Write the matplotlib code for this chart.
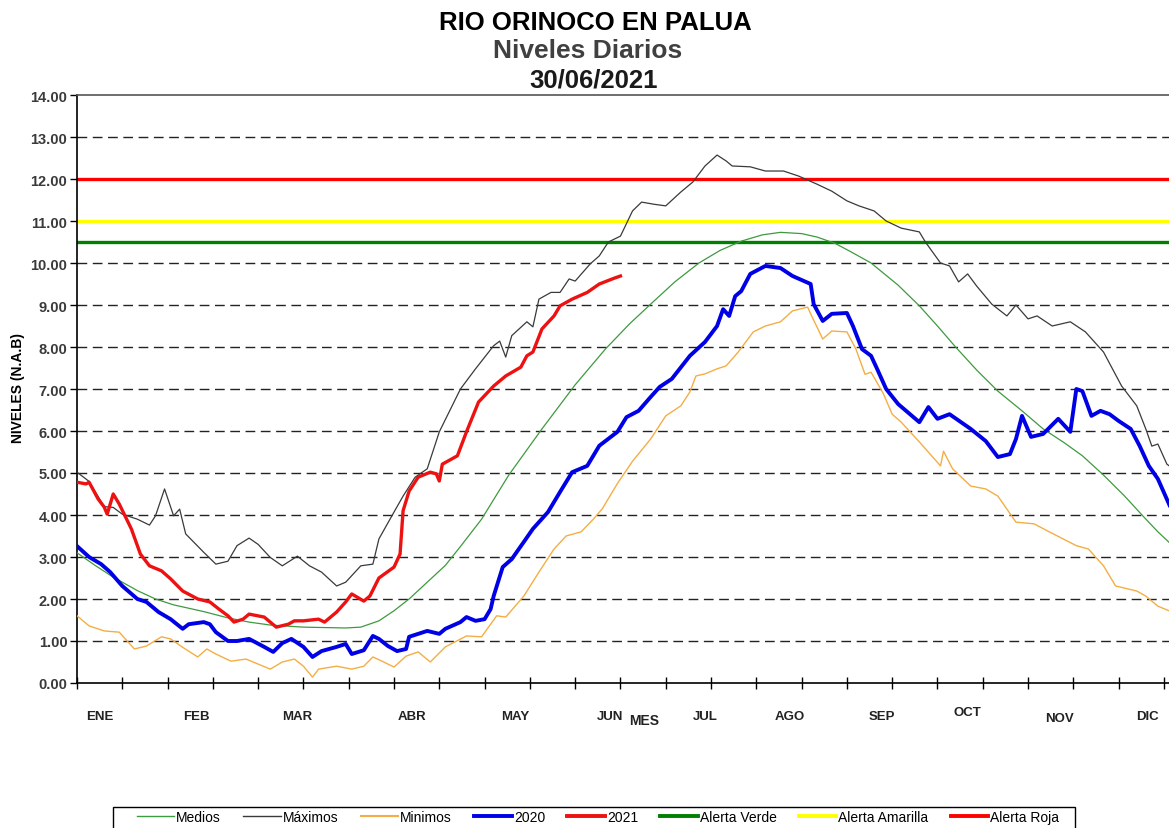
import matplotlib
matplotlib.use("Agg")
import matplotlib.pyplot as plt
from matplotlib.lines import Line2D
from matplotlib.patches import Rectangle
import matplotlib.transforms as mtransforms
from matplotlib import font_manager

plt.rcParams['font.family'] = ['Liberation Sans', 'DejaVu Sans']

_names = {f.name for f in font_manager.fontManager.ttflist}
NARROW = ['Liberation Sans Narrow', 'Liberation Sans'] if 'Liberation Sans Narrow' in _names else ['Liberation Sans']

# ---------------- data (day of year, level m) ----------------
medios_dias = [0, 6, 12, 20, 26, 32, 42, 50, 57, 64, 75, 89, 94, 100, 105, 110, 116, 122, 127, 134,
               143, 154, 165, 175, 183, 190, 198, 206, 213, 220, 227, 233, 240, 245, 251, 256, 263,
               272, 279, 285, 291, 298, 305, 313, 320, 327, 333, 340, 347, 353, 358, 362, 365]
medios = [3.10, 2.80, 2.52, 2.20, 2.00, 1.86, 1.70, 1.55, 1.45, 1.38, 1.33, 1.31, 1.33, 1.48, 1.72,
          2.00, 2.40, 2.80, 3.25, 3.90, 4.95, 6.05, 7.10, 7.95, 8.55, 9.02, 9.55, 10.00, 10.30, 10.52,
          10.67, 10.73, 10.70, 10.62, 10.47, 10.28, 10.00, 9.47, 8.98, 8.50, 8.00, 7.45, 6.95, 6.48,
          6.05, 5.72, 5.41, 4.95, 4.45, 3.98, 3.60, 3.33, 3.15]

maximos_dias = [0, 4, 9, 12, 15, 20, 24, 26, 29, 32, 34, 36, 42, 46, 50, 53, 57, 60, 64, 68, 73, 77,
                81, 86, 89, 94, 98, 100, 105, 108, 112, 116, 120, 127, 132, 138, 140, 142, 144, 149,
                151, 153, 157, 160, 163, 165, 170, 173, 176, 180, 184, 187, 191, 195, 200, 204, 208,
                212, 215, 217, 223, 228, 234, 239, 245, 250, 255, 259, 264, 268, 273, 279, 281, 286,
                289, 292, 295, 298, 303, 308, 311, 315, 318, 323, 329, 334, 340, 346, 351, 354, 356,
                358, 361, 365]
maximos = [5.02, 4.80, 4.20, 4.18, 4.02, 3.90, 3.76, 3.98, 4.62, 3.98, 4.14, 3.55, 3.11, 2.83, 2.90,
           3.27, 3.45, 3.30, 2.99, 2.79, 3.02, 2.79, 2.64, 2.31, 2.40, 2.79, 2.83, 3.43, 4.07, 4.45,
           4.90, 5.10, 5.98, 7.00, 7.48, 8.03, 8.14, 7.76, 8.27, 8.60, 8.48, 9.14, 9.30, 9.30, 9.62,
           9.57, 9.98, 10.17, 10.50, 10.64, 11.24, 11.45, 11.40, 11.36, 11.69, 11.93, 12.31, 12.57,
           12.43, 12.31, 12.29, 12.19, 12.19, 12.07, 11.88, 11.71, 11.48, 11.36, 11.24, 11.00, 10.83,
           10.74, 10.50, 10.00, 9.93, 9.55, 9.74, 9.45, 9.02, 8.74, 9.00, 8.67, 8.74, 8.50, 8.60,
           8.36, 7.88, 7.07, 6.60, 6.05, 5.64, 5.69, 5.21, 5.00]

minimos_dias = [0, 4, 9, 14, 19, 23, 28, 31, 35, 40, 43, 46, 51, 56, 60, 64, 68, 72, 75, 78, 80, 86,
                91, 95, 98, 101, 105, 109, 113, 117, 122, 129, 134, 139, 142, 148, 153, 158, 162, 167,
                171, 174, 179, 184, 190, 195, 200, 203, 205, 208, 212, 215, 219, 224, 228, 233, 237,
                242, 243, 247, 250, 255, 258, 261, 263, 267, 270, 273, 279, 286, 287, 290, 296, 301,
                305, 311, 317, 322, 331, 335, 340, 344, 351, 354, 358, 362, 365]
minimos = [1.60, 1.36, 1.24, 1.21, 0.81, 0.88, 1.10, 1.05, 0.85, 0.62, 0.81, 0.69, 0.52, 0.57, 0.45,
           0.33, 0.50, 0.57, 0.40, 0.14, 0.33, 0.40, 0.33, 0.40, 0.62, 0.52, 0.38, 0.64, 0.74, 0.50,
           0.86, 1.12, 1.10, 1.60, 1.57, 2.07, 2.64, 3.19, 3.50, 3.60, 3.90, 4.15, 4.75, 5.28, 5.81,
           6.36, 6.60, 6.93, 7.31, 7.36, 7.48, 7.55, 7.88, 8.36, 8.50, 8.60, 8.86, 8.95, 8.79, 8.19,
           8.38, 8.36, 7.95, 7.35, 7.40, 6.90, 6.40, 6.21, 5.74, 5.17, 5.52, 5.10, 4.69, 4.62, 4.45,
           3.83, 3.79, 3.60, 3.27, 3.19, 2.79, 2.31, 2.19, 2.07, 1.83, 1.71, 1.65]

dias_2020 = [0, 4, 8, 11, 15, 20, 23, 27, 31, 35, 37, 42, 44, 46, 50, 53, 57, 62, 65, 68, 71, 75, 78,
             81, 86, 89, 91, 95, 98, 100, 103, 106, 109, 110, 116, 120, 122, 127, 129, 132, 135, 137,
             138, 141, 144, 148, 151, 156, 160, 164, 169, 173, 179, 182, 186, 190, 193, 197, 203, 208,
             212, 214, 216, 218, 220, 223, 228, 233, 237, 243, 244, 247, 250, 255, 257, 260, 263, 265,
             268, 272, 279, 282, 285, 289, 296, 301, 305, 309, 311, 313, 316, 320, 325, 329, 331, 333,
             336, 339, 342, 345, 349, 352, 355, 358, 362, 365]
nivel_2020 = [3.26, 3.00, 2.83, 2.64, 2.31, 2.00, 1.93, 1.69, 1.52, 1.29, 1.40, 1.45, 1.40, 1.21, 1.00,
              1.00, 1.05, 0.86, 0.74, 0.95, 1.05, 0.86, 0.62, 0.76, 0.86, 0.93, 0.69, 0.78, 1.12, 1.05,
              0.88, 0.76, 0.81, 1.10, 1.24, 1.17, 1.29, 1.45, 1.57, 1.48, 1.52, 1.76, 2.07, 2.76, 2.95,
              3.36, 3.67, 4.07, 4.55, 5.02, 5.17, 5.65, 5.98, 6.33, 6.48, 6.81, 7.05, 7.24, 7.79, 8.12,
              8.50, 8.90, 8.74, 9.21, 9.33, 9.74, 9.93, 9.88, 9.69, 9.50, 9.02, 8.62, 8.79, 8.81, 8.50,
              7.95, 7.79, 7.48, 7.00, 6.64, 6.21, 6.57, 6.29, 6.40, 6.05, 5.76, 5.38, 5.45, 5.81, 6.36,
              5.86, 5.93, 6.29, 5.98, 7.00, 6.95, 6.36, 6.48, 6.40, 6.24, 6.05, 5.64, 5.17, 4.86, 4.21,
              4.00]

dias_2021 = [0, 3, 4, 7, 9, 10, 12, 14, 18, 21, 24, 28, 31, 35, 40, 44, 47, 50, 52, 55, 57, 62, 64,
             66, 70, 72, 75, 80, 82, 86, 89, 91, 95, 97, 100, 105, 107, 108, 110, 113, 117, 119, 120,
             121, 126, 129, 133, 138, 142, 147, 149, 151, 154, 158, 160, 164, 169, 173, 178, 180]
nivel_2021 = [4.78, 4.74, 4.78, 4.38, 4.19, 4.02, 4.50, 4.26, 3.67, 3.07, 2.79, 2.67, 2.48, 2.19, 2.00,
              1.93, 1.76, 1.60, 1.45, 1.52, 1.64, 1.57, 1.45, 1.33, 1.40, 1.48, 1.48, 1.52, 1.45, 1.69,
              1.93, 2.12, 1.95, 2.07, 2.50, 2.76, 3.07, 4.10, 4.57, 4.90, 5.02, 4.98, 4.81, 5.21, 5.41,
              5.98, 6.69, 7.07, 7.31, 7.52, 7.79, 7.88, 8.43, 8.74, 8.98, 9.14, 9.30, 9.50, 9.64, 9.69]

alerta_verde = 10.5
alerta_amarilla = 11.0
alerta_roja = 12.0

meses = ['ENE', 'FEB', 'MAR', 'ABR', 'MAY', 'JUN', 'JUL', 'AGO', 'SEP', 'OCT', 'NOV', 'DIC']
meses_x = [7.6, 39.7, 73, 111, 145, 176.5, 208, 236, 266.5, 295, 325.5, 354.6]
meses_dy = [0, 0, 0, 0, 0, 0, 0, 0, 0, 4, -2, 0]

# ---------------- figure ----------------
W, H = 1169, 829
fig = plt.figure(figsize=(W / 100, H / 100), dpi=100)
ax_l, ax_r, ax_t, ax_b = 77, 1179, 96, 684
ax = fig.add_axes([ax_l / W, 1 - ax_b / H, (ax_r - ax_l) / W, (ax_b - ax_t) / H])

ax.set_xlim(0, 365)
ax.set_ylim(0, 14)

for v in range(1, 14):
    ax.axhline(v, color='#222222', lw=1.0, ls=(0, (7, 4)), zorder=1)

ax.axhline(alerta_verde, color='#008000', lw=2.4, zorder=2)
ax.axhline(alerta_amarilla, color='#FFFF00', lw=2.4, zorder=2)
ax.axhline(alerta_roja, color='#FF0000', lw=2.4, zorder=2)

ax.plot(medios_dias, medios, color='#3E9A3E', lw=0.9, zorder=3)
ax.plot(maximos_dias, maximos, color='#3A3A3A', lw=0.9, zorder=3)
ax.plot(minimos_dias, minimos, color='#F4AE45', lw=1.0, zorder=3)
ax.plot(dias_2020, nivel_2020, color='#0000E6', lw=2.8, zorder=4, solid_joinstyle='round')
ax.plot(dias_2021, nivel_2021, color='#EE1111', lw=2.4, zorder=5, solid_joinstyle='round')

ax.set_xticks(range(0, 366, 15))
ax.set_xticklabels([])
ax.tick_params(axis='x', direction='inout', length=9, width=1.0, color='black')
ax.set_yticks(range(0, 15))
ax.set_yticklabels([f"{v:.2f}" for v in range(0, 15)], fontsize=10.5, fontweight='bold', color='#3a3a3a')
ax.tick_params(axis='y', direction='out', length=5, width=1.0, pad=2)

for s in ['left', 'bottom', 'top']:
    ax.spines[s].set_linewidth(1.2)
    ax.spines[s].set_color('black')
ax.spines['top'].set_color('#555555')

trans = mtransforms.blended_transform_factory(ax.transData, fig.transFigure)
for m, x, dy in zip(meses, meses_x, meses_dy):
    ax.text(x, 1 - (717 - dy) / H, m, transform=trans, ha='center', va='center',
            fontsize=9.5, fontweight='bold', color='#222222')
ax.text(188, 1 - 721 / H, 'MES', transform=trans, ha='center', va='center',
        fontsize=10, fontweight='bold', color='#222222')

fig.text(18 / W, 1 - 388 / H, 'NIVELES (N.A.B)', rotation=90, ha='center', va='center',
         fontsize=10 if NARROW[0] == 'Liberation Sans' else 11.5, fontweight='bold', color='black',
         family=NARROW)

fig.text(595 / W, 1 - 23 / H, 'RIO ORINOCO EN PALUA', ha='center', va='center',
         fontsize=18.5, fontweight='bold', color='black')
fig.text(588 / W, 1 - 51 / H, 'Niveles Diarios', ha='center', va='center',
         fontsize=19, fontweight='bold', color='#404040')
fig.text(594 / W, 1 - 80 / H, '30/06/2021', ha='center', va='center',
         fontsize=18.5, fontweight='bold', color='#1a1a1a')

handles = [
    Line2D([], [], color='#3E9A3E', lw=1.0),
    Line2D([], [], color='#3A3A3A', lw=1.0),
    Line2D([], [], color='#F4AE45', lw=1.5),
    Line2D([], [], color='#0000E6', lw=2.8),
    Line2D([], [], color='#EE1111', lw=2.8),
    Line2D([], [], color='#008000', lw=2.8),
    Line2D([], [], color='#FFFF00', lw=2.8),
    Line2D([], [], color='#FF0000', lw=2.8),
]
labels = ['Medios', 'Máximos', 'Minimos', '2020', '2021', 'Alerta Verde', 'Alerta Amarilla', 'Alerta Roja']
leg = fig.legend(handles, labels, ncol=8, loc='center', bbox_to_anchor=(598 / W, 1 - 818 / H),
                 frameon=False, prop={'family': NARROW, 'size': 10},
                 handlelength=2.7, handletextpad=0.15, columnspacing=1.6, borderpad=0.0)
fig.add_artist(Rectangle((113 / W, 1 - 834 / H), (1075 - 113) / W, 26 / H, transform=fig.transFigure,
                         facecolor='none', edgecolor='black', lw=1.0))

fig.savefig('out.png', dpi=100, facecolor='white')
